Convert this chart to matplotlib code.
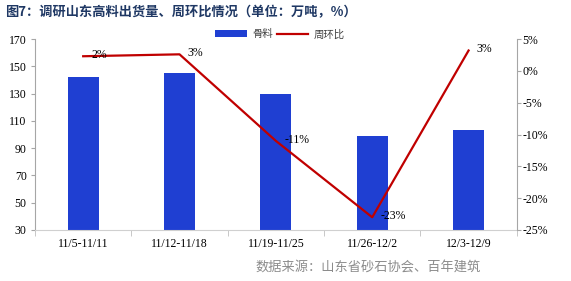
import matplotlib
matplotlib.use("Agg")
import matplotlib.pyplot as plt
from matplotlib.ticker import FuncFormatter
import numpy as np

categories = ["11/5-11/11", "11/12-11/18", "11/19-11/25", "11/26-12/2", "12/3-12/9"]
volume = [142, 145, 130, 99, 103]
wow = [2.3, 2.6, -11.0, -23.0, 3.2]
wow_labels = ["2%", "3%", "-11%", "-23%", "3%"]

cjk = ["Noto Sans CJK SC", "DejaVu Sans"]
serif = ["Liberation Serif", "DejaVu Serif"]

fig = plt.figure(figsize=(5.71, 2.81), dpi=100)
ax = fig.add_axes([0.0613, 0.1815, 0.8437, 0.6795])
x = np.arange(len(categories))
bars = ax.bar(x, volume, width=0.32, color="#1F3FD2", label="骨料", zorder=2)
ax.set_ylim(30, 170)
ax.set_yticks(np.arange(30, 171, 20))
ax.set_xlim(-0.5, len(categories) - 0.5)
ax.set_xticks(x)
ax.set_xticklabels(categories, fontfamily=serif, fontsize=8.5)
ax.set_xticks(np.arange(-0.5, len(categories), 1), minor=True)
ax.tick_params(axis="x", which="major", length=0, pad=6)
ax.tick_params(axis="x", which="minor", length=4, color="#BFBFBF")
ax.tick_params(axis="y", length=3, color="#A6A6A6", labelsize=8.5, pad=3)
for lab in ax.get_yticklabels():
    lab.set_fontfamily(serif)
ax.spines["top"].set_visible(False)
ax.spines["right"].set_visible(False)
ax.spines["left"].set_color("#A6A6A6")
ax.spines["bottom"].set_color("#D0D0D0")

ax2 = ax.twinx()
line, = ax2.plot(x, wow, color="#C00000", lw=1.6, label="周环比", zorder=3)
ax2.set_ylim(-25, 5)
ax2.set_yticks(np.arange(-25, 6, 5))
ax2.yaxis.set_major_formatter(FuncFormatter(lambda v, p: f"{int(v)}%"))
ax2.tick_params(axis="y", length=3, color="#A6A6A6", labelsize=8.5, pad=1)
for lab in ax2.get_yticklabels():
    lab.set_fontfamily(serif)
for s in ["top", "left", "bottom"]:
    ax2.spines[s].set_visible(False)
ax2.spines["right"].set_color("#A6A6A6")

for xi, yi, t in zip(x, wow, wow_labels):
    ax2.annotate(t, (xi, yi), xytext=(6, 1), textcoords="offset points",
                 ha="left", va="center", fontsize=8.5, fontfamily=serif, color="#000000")

leg = fig.legend([bars, line], ["骨料", "周环比"], loc="center", bbox_to_anchor=(0.49, 0.878),
                 ncol=2, frameon=False, prop={"family": cjk, "size": 7.5},
                 handlelength=3.0, handleheight=0.6, columnspacing=0.4, handletextpad=0.5)
for t in leg.get_texts():
    t.set_color("#404040")

fig.text(0.009, 0.955, "图7：调研山东高料出货量、周环比情况（单位：万吨，%）", fontfamily=cjk,
         fontsize=9.5, fontweight="bold", color="#1F3864", ha="left", va="center")
fig.text(0.447, 0.045, "数据来源：山东省砂石协会、百年建筑", fontfamily=cjk,
         fontsize=9.5, color="#8C8C8C", ha="left", va="center")

fig.savefig("out.png", dpi=100)
